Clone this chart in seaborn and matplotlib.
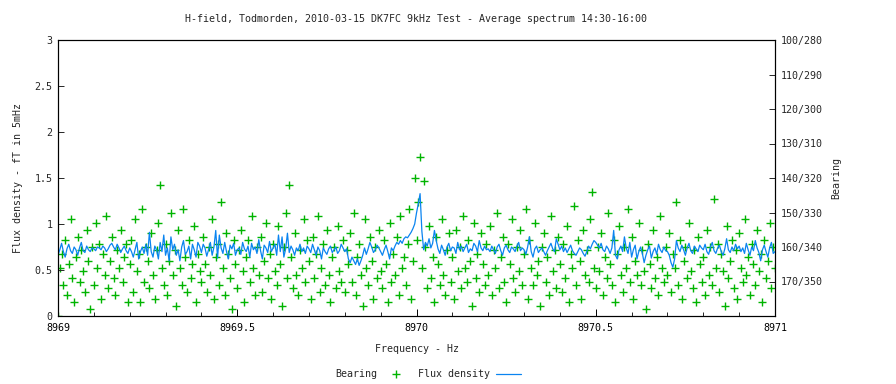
import matplotlib
matplotlib.use('Agg')
import matplotlib.pyplot as plt
from matplotlib.lines import Line2D
from matplotlib.ticker import MultipleLocator
import numpy as np
import pandas as pd
import seaborn as sns

# frequency bins, 5 mHz apart, 8969.000 .. 8971.000 Hz
freq_start = 8969.0
freq_step = 0.005

# average flux density per bin (fT in 5 mHz)
flux = [
    0.66, 0.72, 0.79, 0.70, 0.64, 0.73, 0.78, 0.71, 0.68, 0.75, 0.72, 0.66, 0.74, 0.80, 0.71, 0.69, 0.76, 0.72, 0.70, 0.74,
    0.73, 0.71, 0.75, 0.74, 0.72, 0.76, 0.74, 0.70, 0.73, 0.77, 0.79, 0.75, 0.72, 0.78, 0.74, 0.69, 0.73, 0.76, 0.71, 0.68,
    0.74, 0.70, 0.64, 0.72, 0.80, 0.62, 0.70, 0.75, 0.68, 0.78, 0.66, 0.91, 0.70, 0.64, 0.76, 0.72, 0.62, 0.80, 0.70, 0.88,
    0.66, 0.74, 0.60, 0.86, 0.72, 0.78, 0.66, 0.72, 0.60, 0.75, 0.82, 0.67, 0.70, 0.76, 0.62, 0.78, 0.72, 0.64, 0.80, 0.76,
    0.69, 0.78, 0.74, 0.65, 0.72, 0.80, 0.66, 0.75, 0.93, 0.63, 0.88, 0.74, 0.68, 0.80, 0.70, 0.62, 0.77, 0.73, 0.79, 0.66,
    0.72, 0.74, 0.67, 0.80, 0.73, 0.70, 0.76, 0.64, 0.79, 0.72, 0.75, 0.68, 0.83, 0.71, 0.62, 0.77, 0.74, 0.69, 0.81, 0.70,
    0.74, 0.78, 0.66, 0.88, 0.70, 0.86, 0.64, 0.73, 0.90, 0.69, 0.76, 0.72, 0.66, 0.74, 0.71, 0.78, 0.70, 0.74, 0.68, 0.76,
    0.73, 0.69, 0.78, 0.72, 0.66, 0.75, 0.71, 0.62, 0.74, 0.70, 0.67, 0.73, 0.76, 0.69, 0.72, 0.75, 0.68, 0.71, 0.78, 0.74,
    0.70, 0.73, 0.62, 0.58, 0.64, 0.60, 0.56, 0.62, 0.55, 0.60, 0.66, 0.74, 0.67, 0.73, 0.80, 0.75, 0.69, 0.72, 0.77, 0.74,
    0.70, 0.66, 0.72, 0.77, 0.70, 0.62, 0.74, 0.71, 0.76, 0.80, 0.78, 0.82, 0.79, 0.84, 0.86, 0.85, 0.88, 0.91, 0.95, 1.00,
    1.12, 1.22, 1.33, 0.92, 0.72, 0.80, 0.76, 0.84, 0.74, 0.79, 0.93, 0.82, 0.73, 0.68, 0.77, 0.72, 0.66, 0.75, 0.79, 0.71,
    0.75, 0.74, 0.68, 0.80, 0.72, 0.76, 0.70, 0.74, 0.78, 0.69, 0.73, 0.71, 0.79, 0.76, 0.70, 0.82, 0.74, 0.71, 0.76, 0.72,
    0.73, 0.70, 0.76, 0.72, 0.68, 0.75, 0.78, 0.71, 0.66, 0.74, 0.77, 0.72, 0.69, 0.75, 0.73, 0.70, 0.76, 0.80, 0.71, 0.74,
    0.72, 0.67, 0.75, 0.86, 0.70, 0.64, 0.73, 0.76, 0.69, 0.72, 0.74, 0.70, 0.66, 0.71, 0.75, 0.79, 0.73, 0.70, 0.84, 0.78,
    0.72, 0.76, 0.70, 0.74, 0.69, 0.73, 0.77, 0.71, 0.68, 0.66, 0.70, 0.74, 0.72, 0.68, 0.65, 0.70, 0.76, 0.73, 0.78, 0.82,
    0.80, 0.77, 0.74, 0.79, 0.72, 0.70, 0.76, 0.73, 0.68, 0.74, 0.93, 0.66, 0.62, 0.72, 0.76, 0.70, 0.86, 0.74, 0.68, 0.80,
    0.64, 0.72, 0.77, 0.62, 0.70, 0.75, 0.68, 0.58, 0.66, 0.72, 0.76, 0.63, 0.70, 0.74, 0.67, 0.78, 0.72, 0.69, 0.75, 0.71,
    0.70, 0.66, 0.58, 0.53, 0.62, 0.82, 0.74, 0.70, 0.77, 0.72, 0.66, 0.74, 0.79, 0.71, 0.68, 0.76, 0.73, 0.70, 0.77, 0.74,
    0.72, 0.78, 0.70, 0.67, 0.75, 0.80, 0.71, 0.68, 0.74, 0.77, 0.70, 0.66, 0.73, 0.84, 0.72, 0.69, 0.75, 0.71, 0.78, 0.73,
    0.76, 0.70, 0.74, 0.68, 0.79, 0.72, 0.66, 0.75, 0.71, 0.82, 0.74, 0.69, 0.60, 0.72, 0.77, 0.70, 0.64, 0.74, 0.80, 0.68,
    0.70,
]

# bearing per bin in degrees (right axis, 100 at top, 180 at bottom)
bearing = [
    180, 166, 162, 171, 158, 174, 165, 152, 169, 176, 163, 157, 170, 161, 167, 173, 155, 164, 178, 160,
    171, 153, 166, 159, 175, 162, 168, 151, 172, 164, 157, 169, 174, 161, 166, 155, 170, 163, 159, 176,
    165, 158, 173, 152, 167, 162, 176, 149, 170, 160, 164, 172, 156, 168, 175, 161, 153, 142, 166, 171,
    159, 174, 164, 150, 168, 161, 177, 155, 166, 171, 149, 163, 173, 158, 169, 165, 154, 176, 162, 167,
    170, 157, 165, 173, 160, 168, 152, 175, 163, 159, 171, 147, 166, 174, 156, 162, 169, 178, 158, 165,
    172, 161, 155, 167, 176, 163, 158, 170, 151, 166, 174, 160, 168, 157, 173, 164, 153, 169, 162, 175,
    159, 167, 171, 154, 165, 177, 160, 150, 169, 142, 163, 172, 156, 168, 174, 161, 166, 152, 170, 158,
    164, 175, 157, 169, 162, 151, 173, 166, 159, 171, 155, 168, 176, 163, 160, 172, 154, 167, 170, 158,
    173, 161, 165, 156, 170, 150, 174, 163, 159, 168, 177, 152, 166, 171, 157, 164, 175, 160, 169, 155,
    167, 172, 158, 165, 176, 153, 170, 162, 168, 157, 174, 151, 166, 163, 171, 159, 149, 175, 164, 140,
    158, 147, 134, 166, 141, 160, 172, 154, 169, 163, 176, 157, 165, 171, 152, 168, 174, 161, 156, 170,
    163, 175, 155, 167, 160, 172, 151, 166, 170, 158, 164, 177, 153, 169, 162, 173, 156, 165, 171, 159,
    168, 154, 174, 161, 166, 150, 172, 163, 157, 170, 176, 159, 165, 152, 169, 173, 160, 167, 155, 171,
    162, 149, 175, 158, 166, 171, 153, 168, 164, 177, 160, 156, 170, 163, 174, 151, 167, 161, 172, 157,
    165, 173, 159, 169, 154, 176, 162, 166, 148, 171, 158, 164, 175, 155, 168, 161, 170, 152, 144, 166,
    172, 160, 167, 156, 174, 163, 169, 150, 165, 171, 158, 176, 162, 154, 168, 173, 160, 166, 149, 170,
    157, 175, 164, 168, 153, 171, 161, 167, 178, 159, 165, 172, 155, 169, 163, 174, 151, 166, 170, 160,
    168, 156, 173, 162, 166, 147, 171, 158, 175, 164, 160, 169, 153, 167, 172, 161, 176, 157, 165, 170,
    163, 174, 155, 168, 160, 171, 146, 166, 159, 173, 162, 167, 177, 154, 169, 164, 158, 172, 161, 175,
    156, 166, 170, 152, 168, 163, 174, 159, 165, 171, 155, 167, 162, 176, 158, 169, 164, 153, 172, 160,
    166,
]

bearing_ticks = [100, 110, 120, 130, 140, 150, 160, 170]
bearing_labels = ['100/280', '110/290', '120/300', '130/310',
                  '140/320', '150/330', '160/340', '170/350']

freq = freq_start + freq_step * np.arange(len(flux))
df = pd.DataFrame({'Frequency': freq, 'Flux': flux, 'Bearing': bearing})

sns.set_style('white')
plt.rcParams['font.family'] = ['DejaVu Sans Mono', 'DejaVu Sans']
plt.rcParams['font.size'] = 7.2

blue = '#0a84f0'
green = '#00b400'

fig = plt.figure(figsize=(8.96, 3.84), dpi=100)
ax = fig.add_axes([58 / 896, 1 - 316 / 384, 717 / 896, 276 / 384])
ax2 = ax.twinx()

# bearing on the right axis, drawn underneath the flux line
sns.scatterplot(data=df, x='Frequency', y='Bearing', ax=ax2, marker='+',
                color=green, s=34, linewidth=1.0, legend=False)
ax2.set_ylim(180, 100)
ax2.set_yticks(bearing_ticks)
ax2.set_yticklabels(bearing_labels)
ax2.set_ylabel('Bearing')
ax2.yaxis.set_label_coords(1.078, 0.5)

sns.lineplot(data=df, x='Frequency', y='Flux', ax=ax, color=blue, linewidth=0.9)
ax.set_zorder(ax2.get_zorder() + 1)
ax.patch.set_visible(False)

ax.set_xlim(8969, 8971)
ax.set_ylim(0, 3)
ax.xaxis.set_major_locator(MultipleLocator(0.5))
ax.xaxis.set_minor_locator(MultipleLocator(0.1))
ax.yaxis.set_major_locator(MultipleLocator(0.5))
ax.xaxis.set_major_formatter(matplotlib.ticker.FuncFormatter(lambda v, p: f'{v:g}'))
ax.yaxis.set_major_formatter(matplotlib.ticker.FuncFormatter(lambda v, p: f'{v:g}'))

ax.tick_params(axis='x', which='major', direction='in', length=5, width=0.7, pad=5,
               bottom=True, top=False, colors='black')
ax.tick_params(axis='x', which='minor', direction='in', length=3, width=0.7,
               bottom=True, top=False)
ax.tick_params(axis='y', which='major', direction='in', length=4, width=0.7, pad=4,
               left=True, right=False)
ax2.tick_params(axis='y', direction='in', length=4, width=0.7, pad=4)

ax.set_xlabel('Frequency - Hz')
ax.xaxis.set_label_coords(0.5, -0.10)
ax.set_ylabel('Flux density - fT in 5mHz')
ax.yaxis.set_label_coords(-0.049, 0.5)

for a in (ax, ax2):
    for sp in a.spines.values():
        sp.set_color('black')
        sp.set_linewidth(0.8)

fig.text(416 / 896, 1 - 19 / 384,
         'H-field, Todmorden, 2010-03-15 DK7FC 9kHz Test - Average spectrum 14:30-16:00',
         ha='center', va='center')

handles = [Line2D([], [], color=green, marker='+', linestyle='none', markersize=6, markeredgewidth=1.0),
           Line2D([], [], color=blue, linewidth=0.9)]
fig.legend(handles, ['Bearing', 'Flux density'], loc='center', ncol=2,
           bbox_to_anchor=(428 / 896, 10 / 384), frameon=False, markerfirst=False,
           handlelength=2.5, columnspacing=0.9, handletextpad=0.6)

fig.savefig('out.png', dpi=100)
